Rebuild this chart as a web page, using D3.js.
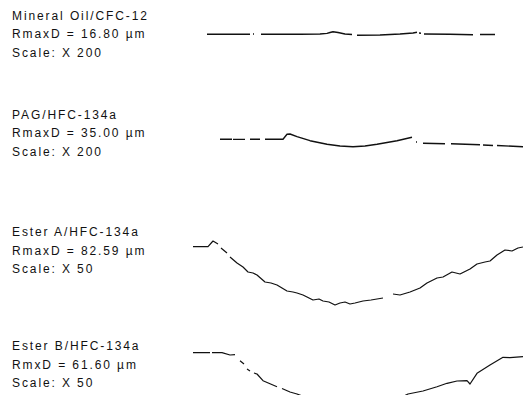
<!DOCTYPE html>
<html>
<head>
<meta charset="utf-8">
<script src="https://cdn.jsdelivr.net/npm/d3@7"></script>
<style>
  html, body { margin: 0; padding: 0; background: #fff; }
  svg { display: block; }
  .label { font-family: "Liberation Sans", Arial, sans-serif; font-size: 12px; letter-spacing: 1.9px; fill: #111; }
</style>
</head>
<body>
<svg id="chart"></svg>
<script>
// sample labels
const sampleNames = ["Mineral Oil/CFC-12", "PAG/HFC-134a", "Ester A/HFC-134a", "Ester B/HFC-134a"];
const rmaxLabels = ["RmaxD = 16.80 µm", "RmaxD = 35.00 µm", "RmaxD = 82.59 µm", "RmxD = 61.60 µm"];
const scaleLabels = ["Scale: X 200", "Scale: X 200", "Scale: X 50", "Scale: X 50"];

// surface profiles: trace position / depth (null = break in the scanned trace)
const oilPos   = [14, 57, null, 60, 61, null, 68, 90, 107, 127, 134, 137, 140, 145, 152, 159, null, 164, 187, 207, 220, 224, null, 226, 228, null, 231, 257, 280, null, 287, 302];
const oilDepth = [4.3, 4.3, null, 4.0, 4.0, null, 4.2, 4.3, 4.2, 4.0, 3.4, 2.5, 1.7, 2.5, 4.0, 4.5, null, 5.2, 5.0, 4.0, 3.0, 2.3, null, 3.0, 3.2, null, 4.0, 4.3, 4.7, null, 4.5, 4.5];

const pagPos   = [27, 39, null, 40, 52, null, 57, 67, null, 72, 90, 94, 97, 104, 117, 134, 147, 160, 172, 184, 204, 219, null, 223, 224, null, 230, 252, null, 258, 287, null, 290, 300, null, 304, 330];
const pagDepth = [9.3, 9.3, null, 9.4, 9.4, null, 9.3, 9.3, null, 9.3, 9.3, 4.3, 4.0, 6.7, 10.7, 14.3, 16.0, 16.7, 16.0, 14.3, 10.7, 7.3, null, 12, 12, null, 13.3, 13.7, null, 13.8, 14.7, null, 15.0, 15.5, null, 15.5, 16.7];

const esterAPos   = [0, 15, 20, 25, null, 28, 34, null, 37, 44, 50, 55, 60, 64, 72, 78, 84, 94, 100, 104, 110, 114, 120, 126, 130, 136, 142, 147, 152, 157, 162, 170, 178, 184, 190, null, 200, 207, 217, 227, 234, 244, 250, 259, 267, 277, 284, 292, 297, 304, 312, 319, 325, 330];
const esterADepth = [6.7, 6.7, 1, 4, null, 8, 13, null, 17, 23, 27, 32, 33, 35, 42, 43, 45, 51, 52, 53, 55, 57, 60, 59, 61, 62, 65, 63, 62, 64, 63, 61, 60, 59, 58, null, 54, 55, 52, 48, 43, 38, 37, 32, 34, 29, 24, 22, 21, 15, 10, 11, 8, 7];

const esterBPos   = [0, 17, null, 19, 29, 37, 42, null, 47, 51, null, 54, 57, null, 61, 64, 70, 84, null, 89, 97, 104, 117, 137, 162, 187, 207, 215, 230, 244, 254, 264, 274, 277, 284, 297, 310, 317, 330];
const esterBDepth = [2.7, 2.7, null, 2.7, 2.7, 5, 4.7, null, 10.7, 14, null, 19, 21, null, 23, 24, 30.7, 36.7, null, 38.5, 42, 44, 49, 55, 59, 55, 48, 44, 41, 36.7, 33.3, 31, 30.7, 34, 23.3, 15, 7.3, 7.7, 6.7];

const width = 523;
const height = 395;

const profiles = [
    { pos: oilPos, depth: oilDepth, top: 30, textY: 19.5, stroke: 1.4 },
    { pos: pagPos, depth: pagDepth, top: 130, textY: 118.5, stroke: 1.4 },
    { pos: esterAPos, depth: esterADepth, top: 240, textY: 236, stroke: 1.2 },
    { pos: esterBPos, depth: esterBDepth, top: 350, textY: 350, stroke: 1.2 }
];

const svg = d3.select("#chart")
    .attr("width", width)
    .attr("height", height)
    .attr("viewBox", [0, 0, width, height]);

const x = d3.scaleLinear()
    .domain([0, 330])
    .range([193, 523]);

profiles.forEach((p, i) => {
    const y = d3.scaleLinear()
        .domain([0, 100])
        .range([p.top, p.top + 100]);

    const pts = p.pos.map((d, j) => [d, p.depth[j]]);

    const line = d3.line()
        .defined(d => d[0] !== null && d[1] !== null)
        .x(d => x(d[0]))
        .y(d => y(d[1]));

    svg.append("path")
        .datum(pts)
        .attr("d", line)
        .attr("fill", "none")
        .attr("stroke", "#111")
        .attr("stroke-width", p.stroke)
        .attr("stroke-linejoin", "round");

    const g = svg.append("g")
        .attr("class", "label");

    [sampleNames[i], rmaxLabels[i], scaleLabels[i]].forEach((t, k) => {
        g.append("text")
            .attr("x", 12)
            .attr("y", p.textY + k * 18.7)
            .text(t);
    });
});
</script>
</body>
</html>
